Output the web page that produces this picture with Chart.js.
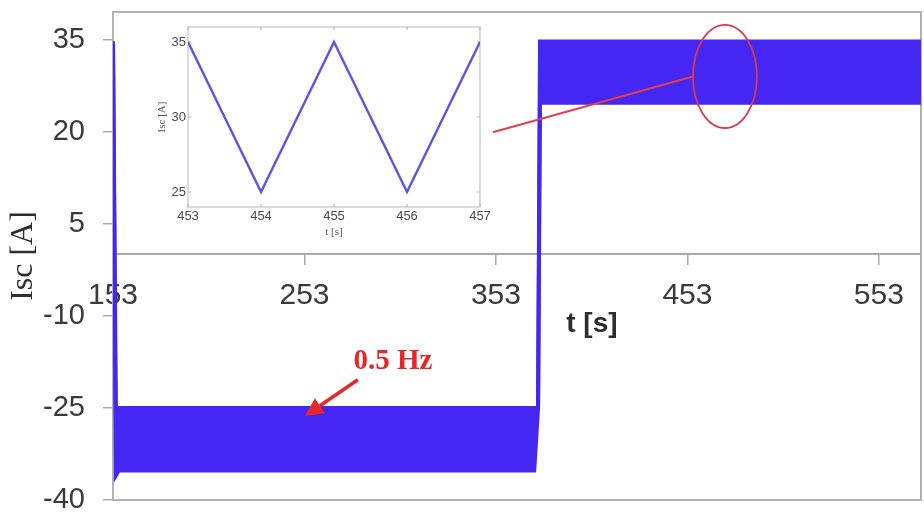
<!DOCTYPE html>
<html>
<head>
<meta charset="utf-8">
<script src="https://cdn.jsdelivr.net/npm/chart.js@4/dist/chart.umd.min.js"></script>
<style>
  html, body { margin: 0; padding: 0; background: #ffffff; }
  #wrap { position: relative; width: 924px; height: 515px; }
  #main { position: absolute; left: 0; top: 0; }
  #inset { position: absolute; left: 150px; top: 20px; }
</style>
</head>
<body>
<div id="wrap">
  <canvas id="main" width="924" height="515"></canvas>
  <canvas id="inset" width="345" height="222"></canvas>
</div>
<script>
// ---------------- DATA ----------------
// Main trace: envelope of the fast 0.5 Hz oscillation of Isc
const timeS    = [153,  154.5, 156,   373,   375,   376,  575];
const iscUpper = [34.7, -25,   -25,   -25,   -25,   34.7, 34.7];
const iscLower = [34.7, -36,   -35.2, -35.2, -25,   24.7, 24.7];
const xTickValues = [153, 253, 353, 453, 553];
const yTickValues = [-40, -25, -10, 5, 20, 35];

// Inset (zoom of 453-457 s)
const insetTime = [453, 454, 455, 456, 457];
const insetIsc  = [35, 25, 35, 25, 35];
const insetXTicks = [453, 454, 455, 456, 457];
const insetYTicks = [25, 30, 35];

// Annotation anchors (data units)
const notes = {
  zoomLine: { from: [351.4, 19.9], to: [455.9, 29.0] },
  ellipse:  { center: [472.6, 29.0], halfT: 16.7, halfI: 8.4 },
  arrow:    { from: [280.9, -20.4], to: [253.3, -26.3] },
  freqText: { at: [299.2, -17.5], text: '0.5 Hz' },
  xTitle:   { at: [403.1, -11.4], text: 't [s]' }
};

// ---------------- STYLE ----------------
const BLUE = '#4526f3';
const INSET_BLUE = '#5858e2';
const RED = '#e8262a';
const GRAY = '#aaaaaa';

const toXY = (xs, ys) => xs.map((x, i) => ({ x: x, y: ys[i] }));

const mainDecor = {
  id: 'mainDecor',
  beforeDatasetsDraw(chart) {
    const { ctx, chartArea: a } = chart;
    ctx.save();
    ctx.strokeStyle = '#b2b2b2';
    ctx.lineWidth = 2;
    ctx.strokeRect(a.left, a.top, a.right - a.left, a.bottom - a.top);
    ctx.restore();
  },
  afterDatasetsDraw(chart) {
    const { ctx } = chart;
    const xs = chart.scales.x, ys = chart.scales.y;
    const px = p => [xs.getPixelForValue(p[0]), ys.getPixelForValue(p[1])];
    ctx.save();
    // line to zoom ellipse
    const l0 = px(notes.zoomLine.from), l1 = px(notes.zoomLine.to);
    ctx.strokeStyle = '#e0404a';
    ctx.lineWidth = 2;
    ctx.beginPath(); ctx.moveTo(l0[0], l0[1]); ctx.lineTo(l1[0], l1[1]); ctx.stroke();
    // ellipse
    const c = px(notes.ellipse.center);
    const rx = Math.abs(xs.getPixelForValue(notes.ellipse.center[0] + notes.ellipse.halfT) - c[0]);
    const ry = Math.abs(ys.getPixelForValue(notes.ellipse.center[1] + notes.ellipse.halfI) - c[1]);
    ctx.strokeStyle = '#d83c48';
    ctx.lineWidth = 1.8;
    ctx.beginPath(); ctx.ellipse(c[0], c[1], rx, ry, 0, 0, Math.PI * 2); ctx.stroke();
    // arrow
    const a0 = px(notes.arrow.from), a1 = px(notes.arrow.to);
    const ang = Math.atan2(a1[1] - a0[1], a1[0] - a0[0]);
    const head = 18, hw = 9;
    const bx = a1[0] - head * Math.cos(ang), by = a1[1] - head * Math.sin(ang);
    ctx.strokeStyle = RED; ctx.fillStyle = RED; ctx.lineWidth = 3.5;
    ctx.beginPath(); ctx.moveTo(a0[0], a0[1]); ctx.lineTo(bx, by); ctx.stroke();
    ctx.beginPath();
    ctx.moveTo(a1[0], a1[1]);
    ctx.lineTo(bx + hw * Math.sin(ang), by - hw * Math.cos(ang));
    ctx.lineTo(bx - hw * Math.sin(ang), by + hw * Math.cos(ang));
    ctx.closePath(); ctx.fill();
    // 0.5 Hz
    const f = px(notes.freqText.at);
    ctx.font = 'bold 29px "Liberation Serif", "Times New Roman", serif';
    ctx.textAlign = 'center'; ctx.textBaseline = 'middle';
    ctx.fillStyle = RED;
    ctx.fillText(notes.freqText.text, f[0], f[1]);
    // t [s]
    const t = px(notes.xTitle.at);
    ctx.font = 'bold 28px "Liberation Sans", Arial, sans-serif';
    ctx.fillStyle = '#2e2e2e';
    ctx.fillText(notes.xTitle.text, t[0], t[1]);
    ctx.restore();
  }
};

new Chart(document.getElementById('main'), {
  type: 'line',
  data: {
    datasets: [
      { label: 'Isc max', data: toXY(timeS, iscUpper), borderColor: BLUE, backgroundColor: BLUE,
        borderWidth: 4, pointRadius: 0, fill: false, tension: 0 },
      { label: 'Isc min', data: toXY(timeS, iscLower), borderColor: BLUE, backgroundColor: BLUE,
        borderWidth: 4, pointRadius: 0, fill: '-1', tension: 0 }
    ]
  },
  options: {
    responsive: false,
    animation: false,
    devicePixelRatio: 1,
    layout: { padding: { top: 12, right: 3, bottom: 15, left: 0 } },
    plugins: { legend: { display: false }, tooltip: { enabled: false } },
    scales: {
      x: {
        type: 'linear',
        position: { y: 0 },
        min: 153, max: 575,
        afterBuildTicks: s => { s.ticks = xTickValues.map(v => ({ value: v })); },
        afterFit: s => { s.paddingLeft = 0; s.paddingRight = 0; },
        grid: { drawOnChartArea: false, drawTicks: true, tickLength: 10, color: GRAY, lineWidth: 1.5 },
        border: { display: true, color: GRAY, width: 2 },
        ticks: { font: { family: '"Liberation Sans", Arial, sans-serif', size: 30 }, color: '#3a3a3a',
                 padding: 13, maxRotation: 0, autoSkip: false }
      },
      y: {
        type: 'linear',
        min: -40, max: 39.5,
        afterBuildTicks: s => { s.ticks = yTickValues.map(v => ({ value: v })); },
        afterFit: s => { s.width = 113; s.paddingTop = 0; s.paddingBottom = 0; },
        grid: { drawOnChartArea: false, drawTicks: true, tickLength: 10, color: GRAY, lineWidth: 1.5 },
        border: { display: true, color: '#b2b2b2', width: 2 },
        ticks: { font: { family: '"Liberation Sans", Arial, sans-serif', size: 29 }, color: '#3a3a3a',
                 padding: 18, autoSkip: false },
        title: { display: true, text: 'Isc [A]', color: '#2e2e2e',
                 font: { family: '"Liberation Serif", "Times New Roman", serif', size: 32 },
                 padding: { top: 4, bottom: 0 } }
      }
    }
  },
  plugins: [mainDecor]
});

// ---------------- INSET ----------------
const insetDecor = {
  id: 'insetDecor',
  beforeDatasetsDraw(chart) {
    const { ctx, chartArea: a } = chart;
    const xs = chart.scales.x, ys = chart.scales.y;
    ctx.save();
    ctx.fillStyle = '#ffffff';
    ctx.fillRect(a.left, a.top, a.right - a.left, a.bottom - a.top);
    ctx.strokeStyle = '#c4c4c4';
    ctx.lineWidth = 1.2;
    ctx.strokeRect(a.left, a.top, a.right - a.left, a.bottom - a.top);
    ctx.strokeStyle = '#b8b8b8';
    ctx.beginPath();
    xs.ticks.forEach(t => {
      const x = xs.getPixelForValue(t.value);
      ctx.moveTo(x, a.bottom); ctx.lineTo(x, a.bottom - 3);
      ctx.moveTo(x, a.top); ctx.lineTo(x, a.top + 3);
    });
    ys.ticks.forEach(t => {
      const y = ys.getPixelForValue(t.value);
      ctx.moveTo(a.left, y); ctx.lineTo(a.left + 3, y);
      ctx.moveTo(a.right, y); ctx.lineTo(a.right - 3, y);
    });
    ctx.stroke();
    ctx.restore();
  }
};

new Chart(document.getElementById('inset'), {
  type: 'line',
  data: {
    datasets: [
      { label: 'Isc', data: toXY(insetTime, insetIsc), borderColor: INSET_BLUE,
        borderWidth: 2.5, pointRadius: 0, fill: false, tension: 0 }
    ]
  },
  options: {
    responsive: false,
    animation: false,
    devicePixelRatio: 1,
    layout: { padding: { top: 7, right: 15, bottom: 0, left: 0 } },
    plugins: { legend: { display: false }, tooltip: { enabled: false } },
    scales: {
      x: {
        type: 'linear', min: 453, max: 457,
        afterBuildTicks: s => { s.ticks = insetXTicks.map(v => ({ value: v })); },
        afterFit: s => { s.height = 35; s.paddingLeft = 0; s.paddingRight = 0; },
        grid: { display: false, drawTicks: false },
        border: { display: false },
        ticks: { font: { family: '"Liberation Sans", Arial, sans-serif', size: 13 }, color: '#4a4a4a',
                 padding: 2, maxRotation: 0, autoSkip: false },
        title: { display: true, text: 't [s]', color: '#555555',
                 font: { family: '"Liberation Serif", "Times New Roman", serif', size: 11 },
                 padding: { top: 0, bottom: 3 } }
      },
      y: {
        type: 'linear', min: 24, max: 36,
        afterBuildTicks: s => { s.ticks = insetYTicks.map(v => ({ value: v })); },
        afterFit: s => { s.width = 38; s.paddingTop = 0; s.paddingBottom = 0; },
        grid: { display: false, drawTicks: false },
        border: { display: false },
        ticks: { font: { family: '"Liberation Sans", Arial, sans-serif', size: 13 }, color: '#4a4a4a',
                 padding: 2, autoSkip: false },
        title: { display: true, text: 'Isc [A]', color: '#555555',
                 font: { family: '"Liberation Serif", "Times New Roman", serif', size: 11 },
                 padding: { top: 6, bottom: 0 } }
      }
    }
  },
  plugins: [insetDecor]
});
</script>
</body>
</html>
